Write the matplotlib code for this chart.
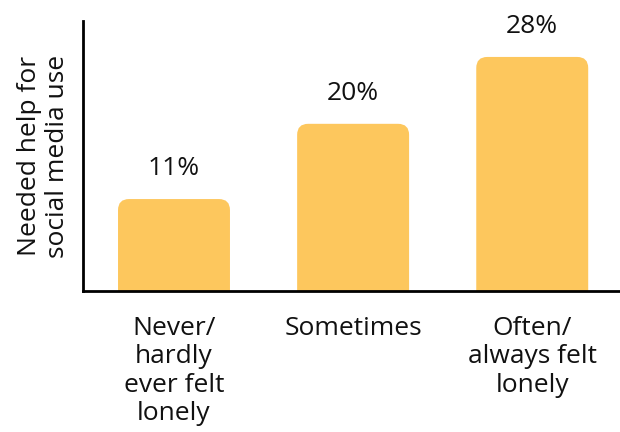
import matplotlib

matplotlib.use("Agg")
import matplotlib.pyplot as plt
from matplotlib.patches import FancyBboxPatch

categories = ["Never/\nhardly\never felt\nlonely", "Sometimes", "Often/\nalways felt\nlonely"]
values = [11, 20, 28]
labels = ["11%", "20%", "28%"]

BAR_COLOR = "#FDC75D"
TEXT_COLOR = "#111111"
FS = 19
plt.rcParams["font.family"] = ["Open Sans", "DejaVu Sans"]

fig = plt.figure(figsize=(6.2, 4.32), dpi=100)
# axes box in figure pixels: left 83, right 620, top 21, bottom 291
ax = fig.add_axes([83 / 620, 1 - 291 / 432, (620 - 83) / 620, (291 - 21) / 432])

x0, x1 = -0.508, 2.49
y0, y1 = 0, 32.3
ax.set_xlim(x0, x1)
ax.set_ylim(y0, y1)

width = 0.625
ax_w_px = 620 - 83
ax_h_px = 291 - 21
aspect = ((y1 - y0) / ax_h_px) / ((x1 - x0) / ax_w_px)
radius = 11 * (x1 - x0) / ax_w_px

for i, v in enumerate(values):
    patch = FancyBboxPatch(
        (i - width / 2, -3),
        width,
        v + 3,
        boxstyle=f"round,pad=0,rounding_size={radius}",
        mutation_aspect=aspect,
        facecolor=BAR_COLOR,
        edgecolor="none",
        clip_on=True,
    )
    ax.add_patch(patch)
    ax.text(i, v + 2.9, labels[i], ha="center", va="baseline", fontsize=FS, color=TEXT_COLOR)

ax.set_xticks(range(len(categories)))
ax.set_xticklabels(categories, fontsize=FS, color=TEXT_COLOR, va="top", linespacing=1.18)
ax.tick_params(axis="x", length=0, pad=18)
ax.set_yticks([])
ax.set_ylabel("Needed help for\nsocial media use", fontsize=FS, color=TEXT_COLOR,
              labelpad=9, linespacing=1.2)

for side in ["top", "right"]:
    ax.spines[side].set_visible(False)
ax.spines["left"].set_linewidth(2)
ax.spines["bottom"].set_linewidth(2)

fig.savefig("out.png", dpi=100)
